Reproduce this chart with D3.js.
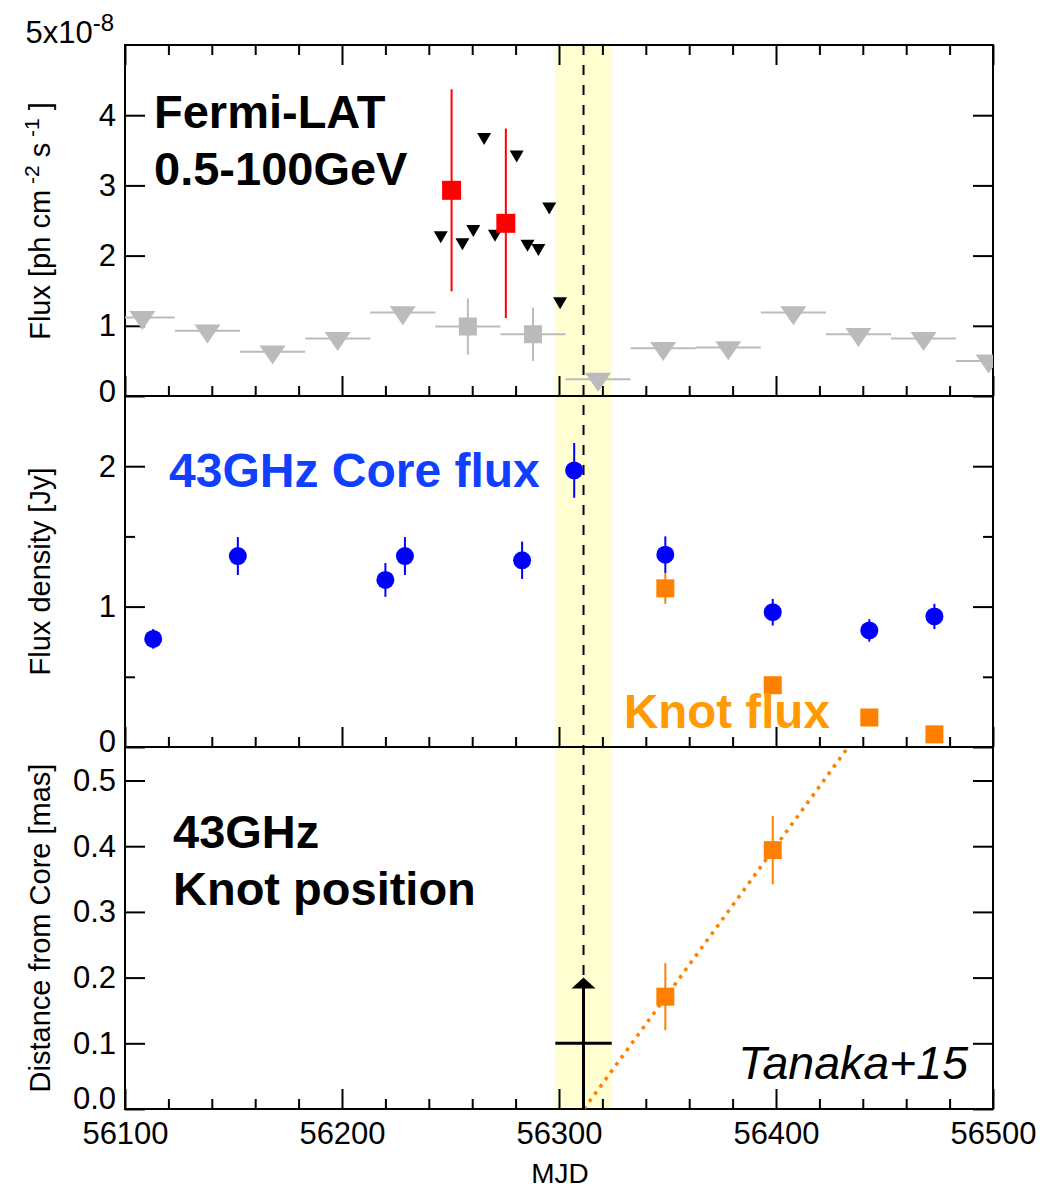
<!DOCTYPE html>
<html><head><meta charset="utf-8">
<script src="https://cdn.jsdelivr.net/npm/d3@7"></script>
<style>
html,body{margin:0;padding:0;background:#fff;}
svg{display:block;}
text{font-family:"Liberation Sans",Arial,Helvetica,sans-serif;}
</style>
</head><body>
<svg id="chart" width="1042" height="1188"></svg>
<script>
// ---------- data ----------
const mjdMajorTicks = [56100, 56200, 56300, 56400, 56500];
const mjdMinorTicks = [56120,56140,56160,56180,56220,56240,56260,56280,56320,56340,56360,56380,56420,56440,56460,56480];

// Fermi-LAT 30-day bins (grey)
const latBinHalfDays = 15;
const latULMJD  = [56108,56138,56168,56198,56228,56318,56348,56378,56408,56438,56468,56498];
const latULFlux = [1.12, 0.93, 0.63, 0.82, 1.19, 0.24, 0.68, 0.69, 1.19, 0.88, 0.82, 0.50];
const latDetMJD  = [56258, 56288];
const latDetFlux = [0.99, 0.88];
const latDetErr  = [0.40, 0.38];

// Fermi-LAT 5-day bins (black upper limits, red detections)
const fineULMJD  = [56245.5,56255.5,56260.5,56265.5,56270.5,56280.5,56285.5,56290.5,56295.5,56300.5];
const fineULFlux = [2.29, 2.19, 2.38, 3.69, 2.31, 3.44, 2.17, 2.11, 2.70, 1.35];
const fineDetMJD  = [56250.5, 56275.5];
const fineDetFlux = [2.93, 2.46];
const fineDetErr  = [1.44, 1.35];

// 43 GHz core flux density (Jy)
const coreMJD  = [56113, 56152, 56220, 56229, 56283, 56307, 56349, 56398.5, 56443, 56473];
const coreFlux = [0.77, 1.36, 1.19, 1.36, 1.33, 1.97, 1.37, 0.96, 0.83, 0.93];
const coreErr  = [0.07, 0.135, 0.12, 0.135, 0.133, 0.195, 0.13, 0.095, 0.08, 0.09];

// Knot flux density (Jy)
const knotMJD     = [56349, 56398.5, 56443, 56473];
const knotFlux    = [1.13, 0.44, 0.21, 0.09];
const knotFluxErr = [0.11, 0.03, 0.02, 0.02];

// Knot position (mas)
const knotPosMJD = [56349, 56398.5];
const knotPos    = [0.171, 0.394];
const knotPosErr = [0.051, 0.052];
const fitMJD = [56311.5, 56433.3];
const fitPos = [0, 0.551];

// Ejection epoch
const ejectMJD = 56311.3;
const ejectHalf = 13;
const ejectPos = 0.1;
const ejectArrowTo = 0.2;

// Tick values
const topYTicks = [0, 1, 2, 3, 4];
const midYTicks = [0, 1, 2];
const midYMinor = [0.5, 1.5];
const botYTicks = [0, 0.1, 0.2, 0.3, 0.4, 0.5];

// ---------- scales ----------
const L = 125, R = 993;
const x = d3.scaleLinear().domain([56100, 56500]).range([L, R]);
const yTop = d3.scaleLinear().domain([0, 5]).range([396, 45]);
const yMid = d3.scaleLinear().domain([0, 2.5]).range([747, 396]);
const yBot = d3.scaleLinear().domain([0, 0.551]).range([1109, 747]);

const FONT = '"Liberation Sans",Arial,Helvetica,sans-serif';
const svg = d3.select("#chart");

const defs = svg.append("defs");
[["clipTop", 45, 396], ["clipMid", 396, 747], ["clipBot", 747, 1109]].forEach(([id, t, b]) => {
  defs.append("clipPath").attr("id", id).append("rect")
    .attr("x", L).attr("y", t).attr("width", R - L).attr("height", b - t);
});

// yellow band
svg.append("rect")
  .attr("x", x(ejectMJD - ejectHalf)).attr("y", 45)
  .attr("width", x(ejectMJD + ejectHalf) - x(ejectMJD - ejectHalf))
  .attr("height", 1109 - 45)
  .attr("fill", "#FFFFD2");

// dashed line
svg.append("line")
  .attr("x1", x(ejectMJD)).attr("x2", x(ejectMJD))
  .attr("y1", 45).attr("y2", 1109)
  .attr("stroke", "#000").attr("stroke-width", 2)
  .attr("stroke-dasharray", "10,10");

// ---------- axes ----------
function styleAxis(g) {
  g.attr("font-family", FONT).attr("font-size", 31);
  g.select(".domain").remove();
  g.selectAll(".tick line").attr("stroke", "#000").attr("stroke-width", 2);
  g.selectAll(".tick text").attr("fill", "#000");
}

const panels = [
  {y: yTop, top: 45, bottom: 396, major: topYTicks, minor: [], fmt: d3.format("d"), xTop: true, xLabels: false, zeroLift: 4},
  {y: yMid, top: 396, bottom: 747, major: midYTicks, minor: midYMinor, fmt: d3.format("d"), xTop: false, xLabels: false, zeroLift: 5},
  {y: yBot, top: 747, bottom: 1109, major: botYTicks, minor: [], fmt: d3.format(".1f"), xTop: false, xLabels: true, zeroLift: 10}
];

panels.forEach(p => {
  svg.append("g").attr("transform", `translate(${L},0)`)
    .call(d3.axisLeft(p.y).tickValues(p.major).tickSize(-20).tickPadding(9).tickFormat(p.fmt))
    .call(styleAxis)
    .selectAll(".tick").filter(d => d === 0).select("text")
    .attr("transform", `translate(0,${-p.zeroLift})`);
  svg.append("g").attr("transform", `translate(${R},0)`)
    .call(d3.axisRight(p.y).tickValues(p.major).tickSize(-20).tickFormat(""))
    .call(styleAxis);
  if (p.minor.length) {
    svg.append("g").attr("transform", `translate(${L},0)`)
      .call(d3.axisLeft(p.y).tickValues(p.minor).tickSize(-10).tickFormat(""))
      .call(styleAxis);
    svg.append("g").attr("transform", `translate(${R},0)`)
      .call(d3.axisRight(p.y).tickValues(p.minor).tickSize(-10).tickFormat(""))
      .call(styleAxis);
  }
  svg.append("g").attr("transform", `translate(0,${p.bottom})`)
    .call(d3.axisBottom(x).tickValues(mjdMajorTicks).tickSize(-20).tickPadding(13)
      .tickFormat(p.xLabels ? d3.format("d") : ""))
    .call(styleAxis);
  svg.append("g").attr("transform", `translate(0,${p.bottom})`)
    .call(d3.axisBottom(x).tickValues(mjdMinorTicks).tickSize(-10).tickFormat(""))
    .call(styleAxis);
  if (p.xTop) {
    svg.append("g").attr("transform", `translate(0,${p.top})`)
      .call(d3.axisTop(x).tickValues(mjdMajorTicks).tickSize(-20).tickFormat(""))
      .call(styleAxis);
    svg.append("g").attr("transform", `translate(0,${p.top})`)
      .call(d3.axisTop(x).tickValues(mjdMinorTicks).tickSize(-10).tickFormat(""))
      .call(styleAxis);
  }
});

// frame
svg.append("rect").attr("x", L).attr("y", 45).attr("width", R - L).attr("height", 1109 - 45)
  .attr("fill", "none").attr("stroke", "#000").attr("stroke-width", 2);
[396, 747].forEach(yy => svg.append("line").attr("x1", L).attr("x2", R).attr("y1", yy).attr("y2", yy)
  .attr("stroke", "#000").attr("stroke-width", 2));

// ---------- marker helpers ----------
const triDown = (w, h) => `M${-w/2},${-h/3}L${w/2},${-h/3}L0,${2*h/3}Z`;

// ---------- top panel ----------
const gTop = svg.append("g").attr("clip-path", "url(#clipTop)");
const GREY = "#BBBBBB";
latULMJD.forEach((m, i) => {
  gTop.append("line").attr("x1", x(m - latBinHalfDays)).attr("x2", x(m + latBinHalfDays))
    .attr("y1", yTop(latULFlux[i])).attr("y2", yTop(latULFlux[i]))
    .attr("stroke", GREY).attr("stroke-width", 2);
  gTop.append("path").attr("d", triDown(26, 19))
    .attr("transform", `translate(${x(m)},${yTop(latULFlux[i])})`).attr("fill", GREY);
});
latDetMJD.forEach((m, i) => {
  gTop.append("line").attr("x1", x(m - latBinHalfDays)).attr("x2", x(m + latBinHalfDays))
    .attr("y1", yTop(latDetFlux[i])).attr("y2", yTop(latDetFlux[i]))
    .attr("stroke", GREY).attr("stroke-width", 2);
  gTop.append("line").attr("x1", x(m)).attr("x2", x(m))
    .attr("y1", yTop(latDetFlux[i] - latDetErr[i])).attr("y2", yTop(latDetFlux[i] + latDetErr[i]))
    .attr("stroke", GREY).attr("stroke-width", 2);
  gTop.append("rect").attr("x", x(m) - 9).attr("y", yTop(latDetFlux[i]) - 9)
    .attr("width", 18).attr("height", 18).attr("fill", GREY);
});
fineULMJD.forEach((m, i) => {
  gTop.append("path").attr("d", triDown(14, 12))
    .attr("transform", `translate(${x(m)},${yTop(fineULFlux[i])})`).attr("fill", "#000");
});
fineDetMJD.forEach((m, i) => {
  gTop.append("line").attr("x1", x(m)).attr("x2", x(m))
    .attr("y1", yTop(fineDetFlux[i] - fineDetErr[i])).attr("y2", yTop(fineDetFlux[i] + fineDetErr[i]))
    .attr("stroke", "#FF0000").attr("stroke-width", 2);
  gTop.append("rect").attr("x", x(m) - 9.5).attr("y", yTop(fineDetFlux[i]) - 9.5)
    .attr("width", 19).attr("height", 19).attr("fill", "#FF0000");
});

// ---------- middle panel ----------
const gMid = svg.append("g").attr("clip-path", "url(#clipMid)");
const ORANGE = "#FF8000", BLUE = "#0000FF";
knotMJD.forEach((m, i) => {
  gMid.append("line").attr("x1", x(m)).attr("x2", x(m))
    .attr("y1", yMid(knotFlux[i] - knotFluxErr[i])).attr("y2", yMid(knotFlux[i] + knotFluxErr[i]))
    .attr("stroke", ORANGE).attr("stroke-width", 2);
  gMid.append("rect").attr("x", x(m) - 9).attr("y", yMid(knotFlux[i]) - 9)
    .attr("width", 18).attr("height", 18).attr("fill", ORANGE);
});
coreMJD.forEach((m, i) => {
  gMid.append("line").attr("x1", x(m)).attr("x2", x(m))
    .attr("y1", yMid(coreFlux[i] - coreErr[i])).attr("y2", yMid(coreFlux[i] + coreErr[i]))
    .attr("stroke", BLUE).attr("stroke-width", 2);
  gMid.append("circle").attr("cx", x(m)).attr("cy", yMid(coreFlux[i])).attr("r", 9).attr("fill", BLUE);
});

// ---------- bottom panel ----------
const gBot = svg.append("g").attr("clip-path", "url(#clipBot)");
gBot.append("line")
  .attr("x1", x(fitMJD[0])).attr("y1", yBot(fitPos[0]))
  .attr("x2", x(fitMJD[1])).attr("y2", yBot(fitPos[1]))
  .attr("stroke", ORANGE).attr("stroke-width", 3.5).attr("stroke-dasharray", "3.5,5.5");
knotPosMJD.forEach((m, i) => {
  gBot.append("line").attr("x1", x(m)).attr("x2", x(m))
    .attr("y1", yBot(knotPos[i] - knotPosErr[i])).attr("y2", yBot(knotPos[i] + knotPosErr[i]))
    .attr("stroke", ORANGE).attr("stroke-width", 2);
  gBot.append("rect").attr("x", x(m) - 9).attr("y", yBot(knotPos[i]) - 9)
    .attr("width", 18).attr("height", 18).attr("fill", ORANGE);
});
gBot.append("line").attr("x1", x(ejectMJD - ejectHalf)).attr("x2", x(ejectMJD + ejectHalf))
  .attr("y1", yBot(ejectPos)).attr("y2", yBot(ejectPos))
  .attr("stroke", "#000").attr("stroke-width", 3);
gBot.append("line").attr("x1", x(ejectMJD)).attr("x2", x(ejectMJD))
  .attr("y1", yBot(0)).attr("y2", yBot(ejectArrowTo) + 8)
  .attr("stroke", "#000").attr("stroke-width", 3);
gBot.append("path")
  .attr("d", `M${x(ejectMJD)},${yBot(ejectArrowTo)}l12,11l-24,0Z`)
  .attr("fill", "#000");

// ---------- texts ----------
function label(txt, xx, yy, size, opts = {}) {
  return svg.append("text").attr("x", xx).attr("y", yy)
    .attr("font-size", size)
    .attr("font-weight", opts.weight || "normal")
    .attr("font-style", opts.style || "normal")
    .attr("fill", opts.fill || "#000")
    .attr("text-anchor", opts.anchor || "start")
    .text(txt);
}
label("Fermi-LAT", 154, 128, 47, {weight: "bold"});
label("0.5-100GeV", 154, 185, 47, {weight: "bold"});
label("43GHz Core flux", 169, 487, 48, {weight: "bold", fill: "#1040FF"});
label("Knot flux", 624, 728, 47.5, {weight: "bold", fill: "#FF9A00"});
label("43GHz", 173, 848, 47, {weight: "bold"});
label("Knot position", 173, 905, 47, {weight: "bold"});
label("Tanaka+15", 968, 1079, 46.5, {style: "italic", anchor: "end"});
label("MJD", 560, 1183, 28, {anchor: "middle"});

// 5x10^-8
const sx = svg.append("text").attr("x", 114).attr("y", 43).attr("text-anchor", "end")
  .attr("font-size", 31).attr("fill", "#000");
sx.append("tspan").text("5x10");
sx.append("tspan").attr("font-size", 24).attr("dy", -12).text("-8");

// axis titles
function yTitle(cy, parts) {
  const t = svg.append("text").attr("transform", `translate(50,${cy}) rotate(-90)`)
    .attr("text-anchor", "middle").attr("font-size", 29).attr("fill", "#000");
  parts.forEach(pt => {
    const s = t.append("tspan").text(pt.t);
    if (pt.sup) s.attr("font-size", 21).attr("dy", -11);
    if (pt.down) s.attr("dy", 11);
  });
}
yTitle(221, [{t: "Flux [ph cm"}, {t: " -2", sup: true}, {t: " s", down: true}, {t: " -1", sup: true}, {t: " ]", down: true}]);
yTitle(571.5, [{t: "Flux density [Jy]"}]);
yTitle(928, [{t: "Distance from Core [mas]"}]);
</script>
</body></html>
